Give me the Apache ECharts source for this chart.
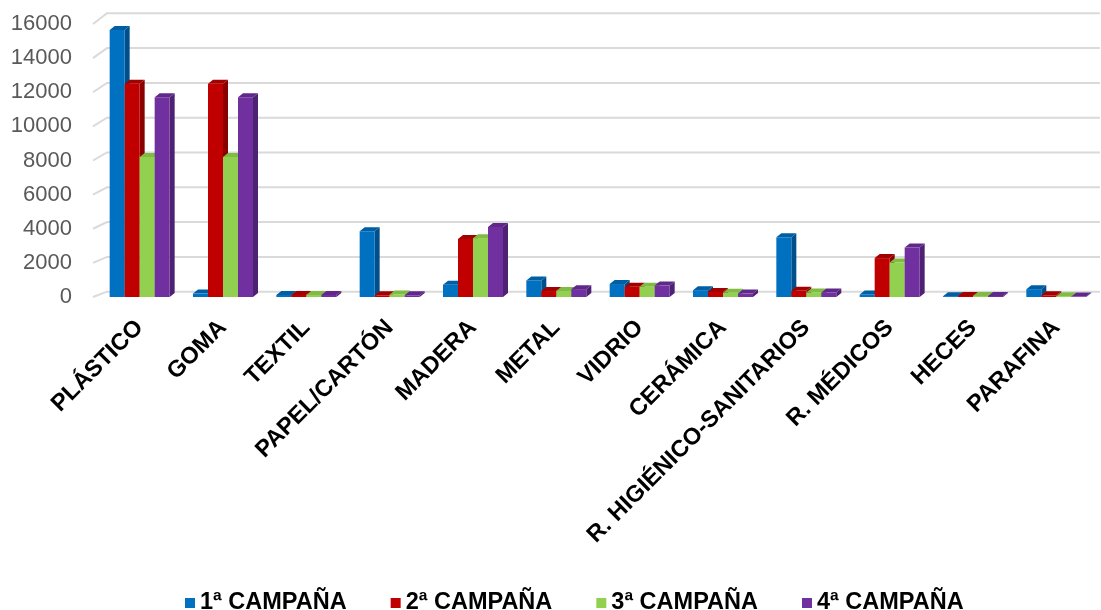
<!DOCTYPE html>
<html><head><meta charset="utf-8">
<script src="https://cdn.jsdelivr.net/npm/echarts@6/dist/echarts.min.js"></script>
<style>html,body{margin:0;padding:0;background:#fff}#c{width:1101px;height:610px}</style>
</head><body><div id="c"></div>
<script>
const categories = ['PLÁSTICO','GOMA','TEXTIL','PAPEL/CARTÓN','MADERA','METAL','VIDRIO','CERÁMICA','R. HIGIÉNICO-SANITARIOS','R. MÉDICOS','HECES','PARAFINA'];
const seriesNames = ['1ª CAMPAÑA','2ª CAMPAÑA','3ª CAMPAÑA','4ª CAMPAÑA'];
const campana1 = [15650, 200, 120, 3850, 720, 970, 760, 400, 3500, 150, 50, 460];
const campana2 = [12500, 12500, 120, 100, 3400, 350, 600, 300, 360, 2280, 60, 100];
const campana3 = [8200, 8200, 120, 150, 3450, 350, 600, 250, 260, 2020, 60, 50];
const campana4 = [11700, 11700, 120, 100, 4100, 460, 670, 200, 260, 2900, 60, 30];
const yTicks = [0, 2000, 4000, 6000, 8000, 10000, 12000, 14000, 16000];

const colors = ['#0070C0', '#C00000', '#92D050', '#7030A0'];
const sideColors = ['#004f8a', '#8a0000', '#6e9e3a', '#4f2173'];
const topColors = ['#005ea3', '#a30000', '#80bb44', '#5f288a'];
const allData = [campana1, campana2, campana3, campana4];
const DX = 5, DY = -4;
const FONT = '"Liberation Sans", Arial, sans-serif';

function barRender(si) {
  return function (params, api) {
    const ci = api.value(0), v = api.value(1);
    const top = api.coord([ci, v]);
    const base = api.coord([ci, 0]);
    const band = api.size([1, 0])[0];
    const w = band * 0.18;
    const x = top[0] - 2 * w + si * w;
    const yT = top[1], yB = base[1];
    return {
      type: 'group',
      children: [
        { type: 'polygon', shape: { points: [[x + w, yT], [x + w + DX, yT + DY], [x + w + DX, yB + DY], [x + w, yB]] }, style: { fill: sideColors[si] } },
        { type: 'polygon', shape: { points: [[x, yT], [x + DX, yT + DY], [x + w + DX, yT + DY], [x + w, yT]] }, style: { fill: topColors[si] } },
        { type: 'rect', shape: { x: x, y: yT, width: w, height: yB - yT }, style: { fill: colors[si] } }
      ]
    };
  };
}

function gridRender(params, api) {
  const v = api.value(1);
  const fy = api.coord([0, v])[1];
  const by = fy * 1.0198 - 11.2;
  const cs = params.coordSys;
  const x0 = cs.x - 5;
  return {
    type: 'polyline',
    shape: { points: [[x0, fy], [x0 + 14, by], [1100, by]] },
    style: { stroke: '#dadada', lineWidth: 2, fill: null }
  };
}

const series = [{
  type: 'custom', name: 'grid', silent: true, z: 1,
  data: yTicks.map(t => [0, t]),
  renderItem: gridRender
}];
seriesNames.forEach((n, i) => {
  series.push({
    type: 'custom', name: n, z: 2 + i,
    itemStyle: { color: colors[i] },
    data: allData[i].map((v, k) => [k, v]),
    renderItem: barRender(i)
  });
});

const chart = echarts.init(document.getElementById('c'));
chart.setOption({
  animation: false,
  textStyle: { fontFamily: FONT },
  grid: { left: 98, right: 3, top: 24, bottom: 313 },
  xAxis: {
    type: 'category', data: categories,
    axisLine: { show: false }, axisTick: { show: false },
    axisLabel: { rotate: 45, interval: 0, margin: 27, fontSize: 23.5, fontWeight: 'bold', color: '#000', fontFamily: FONT }
  },
  yAxis: {
    type: 'value', min: 0, max: 16000, interval: 2000,
    axisLine: { show: false }, axisTick: { show: false }, splitLine: { show: false },
    axisLabel: { margin: 26, fontSize: 22, color: '#595959', fontFamily: FONT, formatter: v => String(v) }
  },
  legend: {
    data: seriesNames, top: 586, left: 180, icon: 'rect', itemWidth: 10, itemHeight: 10, itemGap: 44,
    textStyle: { fontSize: 23.5, fontWeight: 'bold', color: '#000', fontFamily: FONT }
  },
  series: series
});
</script></body></html>
